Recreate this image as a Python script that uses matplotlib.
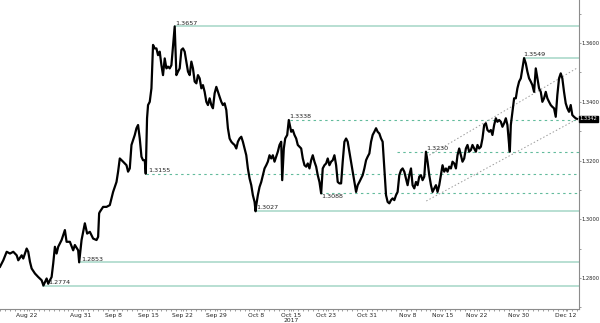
import matplotlib
matplotlib.use("Agg")
import matplotlib.pyplot as plt
from matplotlib.ticker import MultipleLocator
from matplotlib.transforms import blended_transform_factory

plt.rcParams['font.family'] = ['Liberation Sans Narrow', 'DejaVu Sans Condensed', 'DejaVu Sans']

# time position of each sample (chart time scale) and the price read at it
t = [0, 3.3, 6.7, 10, 13.3, 16.7, 18.3, 21.7, 23.3, 26.7, 28.3, 30, 31.7, 35, 38.3, 41.7, 43.5,
     46.7, 48.3, 50, 51.7, 53.3, 55, 56.7, 58.3, 61.7, 65, 66.7, 70, 73.3, 75, 78.3, 79.3, 81.7,
     85, 87.3, 90, 93.3, 96.7, 98.3, 99.3,
     100, 103.3, 106.7, 110, 111.7, 113.3, 116.7, 118.3, 120, 123.3, 126.7, 128.3, 130, 131.7,
     135, 136.7, 138.3, 140, 141.7, 143.3, 145, 146, 147.3, 148.3, 150, 151.7, 153.3, 155, 156.7,
     158.3, 160, 161.7, 163.3, 165, 166.7, 168.3, 170, 171.7, 175, 176.7, 178.3, 180, 181.7,
     183.3, 185, 186.7, 188.3, 190, 191.7, 193.3, 195, 196.7, 198.3,
     200, 201.7, 203.3, 205, 206.7, 208.3, 210, 211.7, 213.3, 215, 216.7, 218.3, 220, 221.7,
     223.3, 225, 226.7, 228.3, 230, 231.7, 233.3, 235, 236.7, 238.3, 240, 241.7, 243.3, 245,
     246.7, 248.3, 250, 251.7, 253.3, 255, 256, 256.7, 258.3, 260, 261.7, 263.3, 265, 266.7,
     268.3, 270, 271.7, 273.3, 275, 276.7, 278.3, 280, 281.7, 282.7, 284.3, 285.7, 287.7, 289.3,
     291.7, 293.3, 295, 296.7, 298.3,
     300, 301.7, 303.3, 305, 306.7, 308.3, 310, 311.7, 313.3, 315, 316.7, 318.3, 320, 321.7,
     323.3, 325, 326.7, 328.3, 330, 331.7, 333.3, 335, 336.7, 338.3, 340, 341.7, 343.3, 345,
     346.7, 348.3, 350, 351.7, 353.3, 355, 356.7, 358.3, 360, 361.7, 363.3, 365, 366.7, 368.3,
     370, 371.7, 373.3, 375, 376.7, 378.3, 380, 381.7, 383.3, 385, 386.7, 388.3, 390, 391.7,
     393.3, 395, 396.7, 398.3,
     400, 401.7, 403.3, 405, 406.7, 408.3, 410, 411.7, 413.3, 415, 416.7, 418.3, 420, 421.7,
     423.3, 425, 426.7, 428.3, 430, 431.7, 433.3, 435, 436.7, 438.3, 440, 441.7, 443.3, 445,
     446.7, 448.3, 450, 451.7, 453.3, 455, 456.7, 458.3, 460, 461.7, 463.3, 465, 466.7, 468.3,
     470, 471.7, 473.3, 475, 476.7, 478.3, 480, 481.7, 483.3, 485, 486.7, 488.3, 490, 491.7,
     493.3, 495, 496.7, 498.3,
     500, 501.7, 503.3, 505, 506.7, 508.3, 510, 510.7, 511.7, 513.3, 515, 516.7, 518.3, 520,
     521.7, 523.3, 525, 526.7, 528.3, 530, 531.7, 533.3, 535, 536.7, 538.3, 540, 541.7, 543.3,
     545, 546.7, 548.3, 550, 551.7, 553.3, 555, 556.7, 558.3, 560, 561.7, 563.3, 565, 566.7,
     568.3, 570, 571.7, 573.3, 575, 576.7, 578]

price = [1.2838, 1.2860, 1.2889, 1.2883, 1.2889, 1.2877, 1.2860, 1.2877, 1.2866, 1.2900, 1.2889,
         1.2855, 1.2832, 1.2815, 1.2803, 1.2792, 1.2774, 1.2798, 1.2780, 1.2792, 1.2803, 1.2849,
         1.2906, 1.2883, 1.2906, 1.2929, 1.2963, 1.2923, 1.2923, 1.2894, 1.2912, 1.2894, 1.2853,
         1.2929, 1.2986, 1.2951, 1.2957, 1.2934, 1.2929, 1.2940, 1.3020,
         1.3025, 1.3042, 1.3042, 1.3048, 1.3071, 1.3093, 1.3127, 1.3162, 1.3207, 1.3196, 1.3184,
         1.3162, 1.3173, 1.3253, 1.3287, 1.3310, 1.3321, 1.3275, 1.3213, 1.3201, 1.3201, 1.3155,
         1.3344, 1.3389, 1.3400, 1.3446, 1.3594, 1.3582, 1.3582, 1.3559, 1.3571, 1.3525, 1.3491,
         1.3548, 1.3514, 1.3520, 1.3514, 1.3525, 1.3657, 1.3491, 1.3503, 1.3514, 1.3577, 1.3582,
         1.3571, 1.3537, 1.3503, 1.3491, 1.3537, 1.3514, 1.3469, 1.3463, 1.3491,
         1.3480, 1.3446, 1.3457, 1.3434, 1.3400, 1.3389, 1.3412, 1.3389, 1.3378, 1.3429, 1.3451,
         1.3434, 1.3417, 1.3400, 1.3389, 1.3395, 1.3372, 1.3310, 1.3275, 1.3264, 1.3258, 1.3253,
         1.3241, 1.3264, 1.3275, 1.3281, 1.3264, 1.3241, 1.3218, 1.3173, 1.3139, 1.3116, 1.3082,
         1.3059, 1.3027, 1.3048, 1.3082, 1.3110, 1.3127, 1.3150, 1.3173, 1.3184, 1.3196, 1.3218,
         1.3207, 1.3218, 1.3196, 1.3213, 1.3230, 1.3253, 1.3264, 1.3133, 1.3241, 1.3275, 1.3287,
         1.3338, 1.3298, 1.3304, 1.3287, 1.3275, 1.3253,
         1.3247, 1.3241, 1.3207, 1.3184, 1.3179, 1.3190, 1.3173, 1.3201, 1.3218, 1.3196, 1.3179,
         1.3150, 1.3127, 1.3088, 1.3173, 1.3184, 1.3190, 1.3207, 1.3184, 1.3196, 1.3201, 1.3218,
         1.3184, 1.3127, 1.3122, 1.3122, 1.3196, 1.3264, 1.3275, 1.3264, 1.3230, 1.3196, 1.3162,
         1.3127, 1.3093, 1.3116, 1.3127, 1.3139, 1.3150, 1.3173, 1.3201, 1.3213, 1.3224, 1.3264,
         1.3287, 1.3298, 1.3310, 1.3298, 1.3292, 1.3275, 1.3264, 1.3173, 1.3082, 1.3059, 1.3054,
         1.3065, 1.3071, 1.3065, 1.3082, 1.3093,
         1.3150, 1.3167, 1.3173, 1.3162, 1.3139, 1.3116, 1.3150, 1.3173, 1.3116, 1.3105, 1.3127,
         1.3116, 1.3145, 1.3150, 1.3133, 1.3145, 1.3230, 1.3196, 1.3150, 1.3116, 1.3093, 1.3105,
         1.3116, 1.3093, 1.3116, 1.3150, 1.3184, 1.3162, 1.3173, 1.3162, 1.3179, 1.3173, 1.3196,
         1.3190, 1.3173, 1.3218, 1.3241, 1.3218, 1.3196, 1.3207, 1.3241, 1.3253, 1.3230, 1.3236,
         1.3253, 1.3241, 1.3230, 1.3253, 1.3241, 1.3247, 1.3275, 1.3321, 1.3327, 1.3304, 1.3298,
         1.3304, 1.3287, 1.3321, 1.3344, 1.3332,
         1.3338, 1.3332, 1.3315, 1.3327, 1.3344, 1.3321, 1.3253, 1.3230, 1.3321, 1.3366, 1.3412,
         1.3412, 1.3446, 1.3469, 1.3480, 1.3514, 1.3549, 1.3531, 1.3503, 1.3480, 1.3469, 1.3457,
         1.3434, 1.3514, 1.3480, 1.3446, 1.3434, 1.3400, 1.3412, 1.3434, 1.3412, 1.3400, 1.3389,
         1.3383, 1.3378, 1.3349, 1.3423, 1.3480, 1.3497, 1.3480, 1.3434, 1.3395, 1.3378, 1.3366,
         1.3389, 1.3355, 1.3349, 1.3344, 1.3342]

assert len(t) == len(price), (len(t), len(price))

# support / resistance levels
levels = [1.3657, 1.3549, 1.3338, 1.3230, 1.3155, 1.3088, 1.3027, 1.2853, 1.2774]
level_start = [175, 525, 290, 398, 146, 321, 256, 79, 43]
level_label_x = [176, 524, 290, 427, 148, 322, 257, 81, 48]
level_dashed = [False, False, True, True, True, True, False, False, False]
level_label_below = [False, False, False, False, False, True, False, False, False]

# rising channel
channel_t = [427, 578]
channel_upper = [1.3212, 1.3515]
channel_lower = [1.3062, 1.3341]

last_price = 1.3342

tick_pos = [27, 81, 114, 149, 183, 217, 257, 292, 327, 368, 408, 443, 478, 519, 567]
tick_labels = ['Aug 22', 'Aug 31', 'Sep 8', 'Sep 15', 'Sep 22', 'Sep 29', 'Oct 8', 'Oct 15',
               'Oct 23', 'Oct 31', 'Nov 8', 'Nov 15', 'Nov 22', 'Nov 30', 'Dec 12']
y_ticks = [1.28, 1.30, 1.32, 1.34, 1.36]

fig = plt.figure(figsize=(6, 3.23), dpi=100)
ax = fig.add_axes([0, 14 / 323, 579 / 600, 309 / 323])
ax.set_xlim(0, 580)
ax.set_ylim(1.2694, 1.3747)

for lv, x0, lx, dashed, below in zip(levels, level_start, level_label_x, level_dashed, level_label_below):
    if dashed:
        ax.plot([x0, 580], [lv, lv], color='#62bb9c', lw=0.8, dashes=(2.2, 3), zorder=1)
    else:
        ax.plot([x0, 580], [lv, lv], color='#b2dccf', lw=1.3, zorder=1)
    off = -0.8 if below else 0.6
    ax.annotate(f'{lv:.4f}', (lx, lv), xytext=(0, off), textcoords='offset points',
                ha='left', va='top' if below else 'bottom', fontsize=4.6, color='#222222', zorder=4)

ax.plot(channel_t, channel_upper, color='#9a9a9a', lw=0.7, dashes=(1.5, 2.2), zorder=1)
ax.plot(channel_t, channel_lower, color='#9a9a9a', lw=0.7, dashes=(1.5, 2.2), zorder=1)

ax.plot(t, price, color='black', lw=1.6, zorder=3)

for side in ['top', 'left']:
    ax.spines[side].set_visible(False)
for side in ['right', 'bottom']:
    ax.spines[side].set_color('#8c8c8c')
    ax.spines[side].set_linewidth(0.8)

ax.yaxis.tick_right()
ax.set_yticks(y_ticks)
ax.set_yticklabels([f'{v:.4f}' for v in y_ticks])
ax.yaxis.set_minor_locator(MultipleLocator(0.01))
ax.tick_params(axis='y', which='both', labelsize=3.7, length=1.5, width=0.6, pad=0.2,
               colors='#8c8c8c', labelcolor='#222222')

ax.set_xticks(tick_pos)
ax.set_xticklabels(tick_labels)
ax.xaxis.set_minor_locator(MultipleLocator(4.9))
ax.tick_params(axis='x', which='both', labelsize=4.3, length=1.5, width=0.6, pad=1.2,
               colors='#8c8c8c', labelcolor='#222222')

trans = blended_transform_factory(ax.transData, fig.transFigure)
fig.text(292, 0.0, '2017', transform=trans, ha='center', va='bottom', fontsize=4.3,
         color='#222222')

ax.text(1.001, last_price, f'{last_price:.4f}', transform=ax.get_yaxis_transform(),
        ha='left', va='center', fontsize=3.7, color='white', zorder=5,
        bbox=dict(boxstyle='square,pad=0.15', fc='black', ec='black'), clip_on=False)

fig.savefig('out.png', dpi=100)
